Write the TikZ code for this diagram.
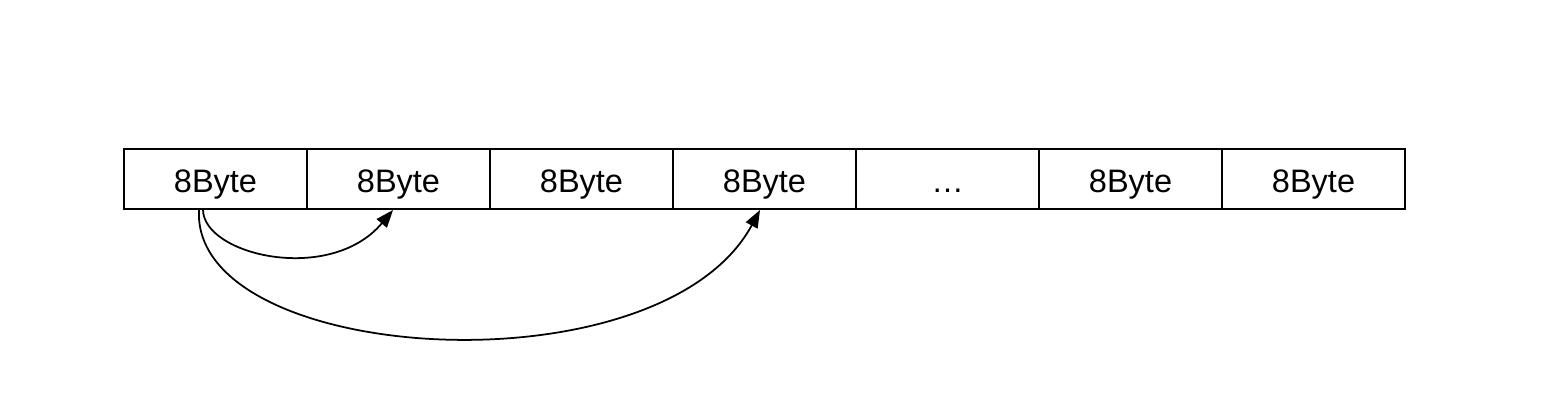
\documentclass[tikz,border=0pt]{standalone}
\usepackage{fontspec}
\setmainfont{Liberation Sans}
\usetikzlibrary{arrows.meta}
\begin{document}
\begin{tikzpicture}[every node/.style={rectangle, draw, minimum width=3.66cm, minimum height=1.2cm, line width=1pt, text height=15pt, text depth=0pt, font=\fontsize{18.5}{21}\selectfont}, >={Triangle[length=10pt, width=7.5pt]}]
        \useasboundingbox (0,0) rectangle (30.84,-8.24);
        \node (1) at (4.31, -3.58) {8Byte};
        \node (2) at (7.97, -3.58) {8Byte};
        \node (3) at (11.63, -3.58) {8Byte};
        \node (4) at (15.29, -3.58) {8Byte};
        \node (5) at (18.95, -3.58) {…};
        \node (6) at (22.61, -3.58) {8Byte};
        \node (7) at (26.27, -3.58) {8Byte};
        \coordinate (s1) at (4.06, -4.19);
        \coordinate (s2) at (3.98, -4.19);
        \coordinate (e1) at (7.86, -4.2);
        \coordinate (e2) at (15.2, -4.2);
        \draw[->, line width=1pt] (s1) .. controls (4.06, -5.1) and (6.6, -5.7) .. (e1);
        \draw[->, line width=1pt] (s2) .. controls (3.8, -7.3) and (13.2, -7.9) .. (e2);
    \end{tikzpicture}
\end{document}
